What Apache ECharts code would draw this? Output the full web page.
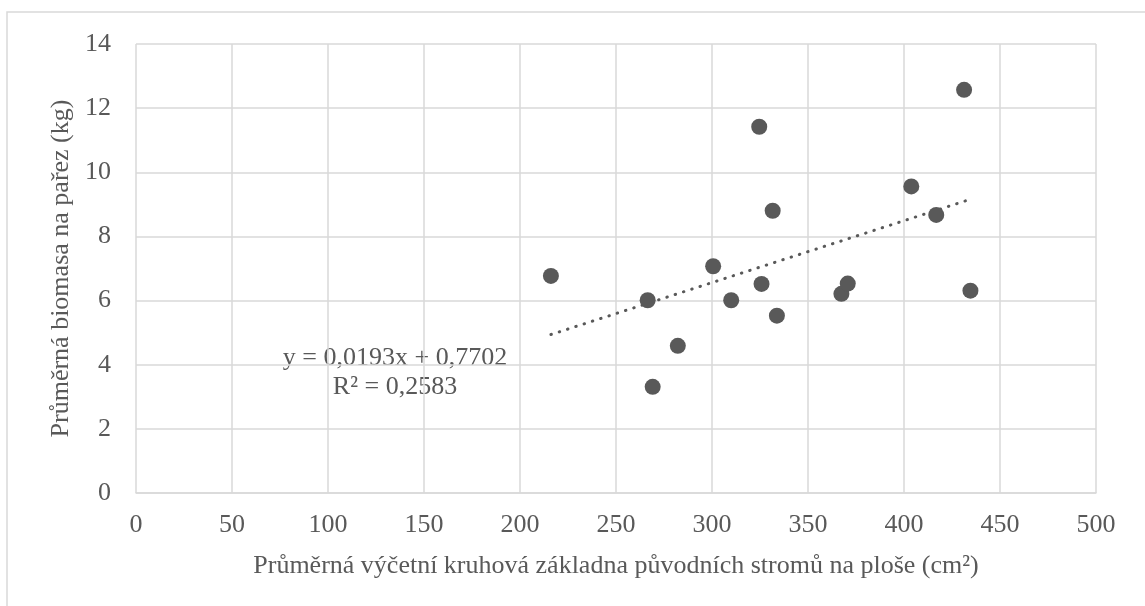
<!DOCTYPE html>
<html>
<head>
<meta charset="utf-8">
<script src="https://cdn.jsdelivr.net/npm/echarts@6/dist/echarts.min.js"></script>
<style>
  html, body { margin: 0; padding: 0; background: #fff; }
  #chart { width: 1145px; height: 606px; }
</style>
</head>
<body>
<div id="chart"></div>
<script>
// basal area (cm2) vs. biomass per stump (kg)
const xValues = [216.1, 266.5, 269.1, 282.2, 300.6, 310.0, 324.6, 325.8, 331.6, 333.8, 367.4, 370.7, 403.8, 416.8, 431.3, 434.6];
const yValues = [6.77, 6.01, 3.31, 4.59, 7.07, 6.01, 11.42, 6.52, 8.80, 5.53, 6.21, 6.53, 9.56, 8.67, 12.57, 6.31];

// linear trend as printed on the chart
const slope = 0.0193;
const intercept = 0.7702;
const eqLines = ["y = 0,0193x + 0,7702", "R² = 0,2583"];

const xName = "Průměrná výčetní kruhová základna původních stromů na ploše (cm²)";
const yName = "Průměrná biomasa na pařez (kg)";

const points = xValues.map((x, i) => [x, yValues[i]]);
const xMin = Math.min(...xValues);
const xMax = Math.max(...xValues);
const trend = [xMin, xMax].map(x => [x, slope * x + intercept]);

const font = "'Liberation Serif', 'DejaVu Serif', serif";
const grey = "#595959";
const gridGrey = "#d9d9d9";
const fs = 26;

let chart = echarts.init(document.getElementById("chart"), null, { renderer: "canvas" });

chart.setOption({
    animation: false,
    backgroundColor: "#fff",
    grid: { left: 136, right: 49, top: 44, bottom: 113 },
    xAxis: {
        type: "value",
        min: 0, max: 500, interval: 50,
        name: xName,
        nameLocation: "middle",
        nameGap: 60,
        nameTextStyle: { fontFamily: font, fontSize: fs, color: grey },
        axisLine: { show: true, lineStyle: { color: gridGrey, width: 1.5 } },
        axisTick: { show: false },
        axisLabel: { fontFamily: font, fontSize: fs, color: grey, margin: 19 },
        splitLine: { show: true, lineStyle: { color: gridGrey, width: 1.5 } }
    },
    yAxis: {
        type: "value",
        min: 0, max: 14, interval: 2,
        name: yName,
        nameLocation: "middle",
        nameGap: 62,
        nameTextStyle: { fontFamily: font, fontSize: fs, color: grey },
        axisLine: { show: false },
        axisTick: { show: false },
        axisLabel: { fontFamily: font, fontSize: fs, color: grey, margin: 25 },
        splitLine: { show: true, lineStyle: { color: gridGrey, width: 1.5 } }
    },
    graphic: [
        {
            type: "rect",
            silent: true,
            z: -1,
            shape: { x: 7, y: 12, width: 1200, height: 700 },
            style: { fill: "none", stroke: gridGrey, lineWidth: 1.5 }
        },
        {
            type: "text",
            x: 395, y: 358,
            style: {
                text: eqLines[0],
                fontFamily: font, fontSize: fs, fill: grey,
                textAlign: "center", textVerticalAlign: "middle"
            }
        },
        {
            type: "text",
            x: 395, y: 387,
            style: {
                text: eqLines[1],
                fontFamily: font, fontSize: fs, fill: grey,
                textAlign: "center", textVerticalAlign: "middle"
            }
        }
    ],
    series: [
        {
            type: "line",
            data: trend,
            showSymbol: false,
            symbol: "none",
            lineStyle: { color: grey, width: 3, type: [0.5, 8.2], cap: "round" },
            z: 1
        },
        {
            type: "scatter",
            data: points,
            symbol: "circle",
            symbolSize: 16,
            itemStyle: { color: grey, opacity: 1 },
            z: 2
        }
    ]
});
</script>
</body>
</html>
